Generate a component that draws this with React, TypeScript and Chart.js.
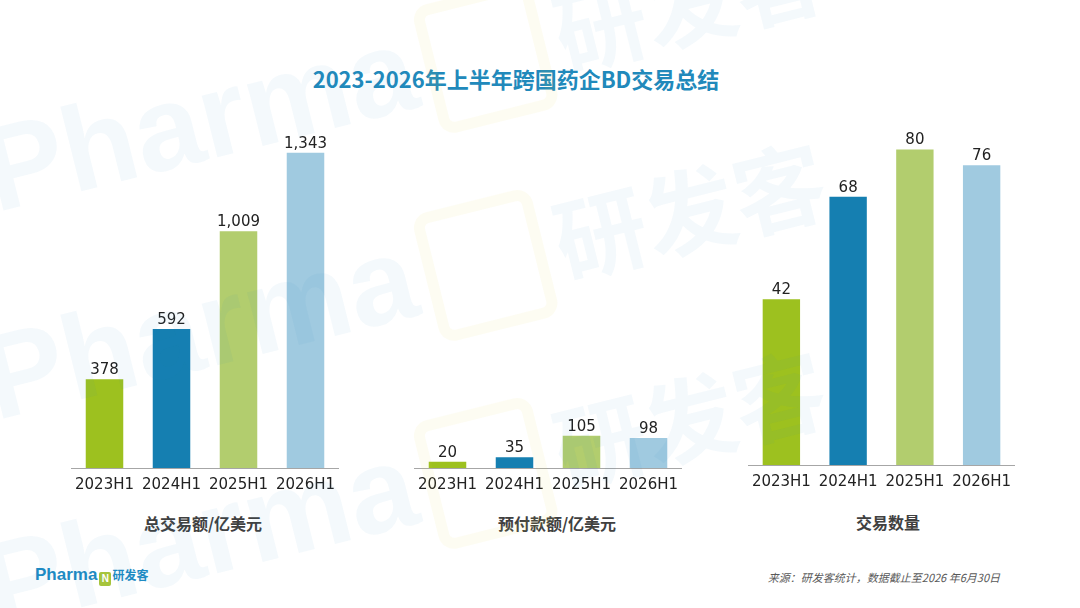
import React, { useEffect, useRef } from "react";
import { Chart, registerables } from "chart.js";

Chart.register(...registerables);

const categories = ["2023H1", "2024H1", "2025H1", "2026H1"];
const totalDealValue = [378, 592, 1009, 1343];
const upfrontValue = [20, 35, 105, 98];
const dealCount = [42, 68, 80, 76];
const barColors = ["#9DC11F", "#157FB1", "#B2CD6E", "#A0CAE0"];

const title = "2023-2026年上半年跨国药企BD交易总结";
const source = "来源：研发客统计，数据截止至2026 年6月30日";

const PAD_TOP = 30;
const AXIS_H = 40;

// draws the number above each bar
const valueLabels = {
  id: "valueLabels",
  afterDatasetsDraw(chart: Chart) {
    const { ctx } = chart;
    const meta = chart.getDatasetMeta(0);
    const data = chart.data.datasets[0].data as number[];
    ctx.save();
    ctx.font = "15px 'DejaVu Sans'";
    ctx.fillStyle = "#222222";
    ctx.textAlign = "center";
    ctx.textBaseline = "alphabetic";
    meta.data.forEach((bar: any, i: number) => {
      ctx.fillText(data[i].toLocaleString("en-US"), bar.x, bar.y - 5);
    });
    ctx.restore();
  },
};

type PanelProps = {
  values: number[];
  yMax: number;
  left: number;
  width: number;
  axisY: number;
  areaHeight: number;
  subtitle: string;
  subtitleX: number;
  subtitleY: number;
};

const Panel = ({ values, yMax, left, width, axisY, areaHeight, subtitle, subtitleX, subtitleY }: PanelProps) => {
  const chartRef = useRef<HTMLCanvasElement | null>(null);
  const height = PAD_TOP + areaHeight + AXIS_H;
  const top = axisY - areaHeight - PAD_TOP;

  useEffect(() => {
    const ctx = chartRef.current?.getContext("2d");
    const chartInstance = new Chart(ctx!, {
      type: "bar",
      data: {
        labels: categories,
        datasets: [
          {
            data: values,
            backgroundColor: barColors,
            categoryPercentage: 1,
            barPercentage: 0.56,
          },
        ],
      },
      options: {
        responsive: false,
        animation: false,
        layout: { padding: { top: PAD_TOP, left: 0, right: 0, bottom: 0 } },
        plugins: { legend: { display: false }, tooltip: { enabled: false } },
        scales: {
          x: {
            grid: { display: false },
            border: { display: true, color: "#A6A6A6", width: 1 },
            ticks: {
              color: "#222222",
              font: { family: "'DejaVu Sans'", size: 15 },
              padding: 0,
              maxRotation: 0,
              autoSkip: false,
            },
            afterFit: (scale: any) => {
              scale.height = AXIS_H;
            },
          },
          y: { display: false, min: 0, max: yMax },
        },
      },
      plugins: [valueLabels],
    });
    return () => {
      chartInstance.destroy();
    };
  }, []);

  return (
    <>
      <canvas
        ref={chartRef}
        width={width}
        height={height}
        style={{ position: "absolute", left, top, width, height }}
      />
      <div
        style={{
          position: "absolute",
          left: subtitleX - 100,
          width: 200,
          top: subtitleY - 12,
          lineHeight: "24px",
          textAlign: "center",
          fontFamily: "'Noto Sans CJK SC'",
          fontWeight: 700,
          fontSize: 16,
          color: "#404040",
        }}
      >
        {subtitle}
      </div>
    </>
  );
};

const Watermark = ({ top }: { top: number }) => (
  <div
    style={{
      position: "absolute",
      left: 0,
      top,
      height: 120,
      lineHeight: "120px",
      whiteSpace: "nowrap",
      transform: "rotate(-14deg)",
      transformOrigin: "0 100%",
      fontFamily: "'Liberation Sans'",
      fontWeight: 700,
      fontSize: 120,
      color: "rgba(30,140,200,0.05)",
      pointerEvents: "none",
    }}
  >
    Pharma
    <span
      style={{
        display: "inline-block",
        width: 100,
        height: 110,
        marginLeft: 12,
        marginRight: 12,
        verticalAlign: "middle",
        border: "11px solid rgba(225,215,70,0.07)",
        borderRadius: 16,
      }}
    />
    <span style={{ fontFamily: "'Noto Sans CJK SC'", fontSize: 92 }}>研发客</span>
  </div>
);

const App = () => {
  return (
    <div
      style={{
        position: "absolute",
        left: 0,
        top: 0,
        width: 1080,
        height: 608,
        overflow: "hidden",
        background: "#FFFFFF",
      }}
    >
      <div
        style={{
          position: "absolute",
          left: 0,
          width: 1032,
          top: 65,
          lineHeight: "26px",
          textAlign: "center",
          fontFamily: "'Noto Sans CJK SC'",
          fontWeight: 700,
          fontSize: 22,
          color: "#2189BB",
        }}
      >
        {title}
      </div>

      <Panel values={totalDealValue} yMax={1500} left={71} width={268} axisY={468} areaHeight={352}
        subtitle="总交易额/亿美元" subtitleX={203} subtitleY={523} />
      <Panel values={upfrontValue} yMax={150} left={414} width={268} axisY={468} areaHeight={46}
        subtitle="预付款额/亿美元" subtitleX={557} subtitleY={523} />
      <Panel values={dealCount} yMax={90} left={748} width={267} axisY={465} areaHeight={355}
        subtitle="交易数量" subtitleX={888} subtitleY={522} />

      <div
        style={{
          position: "absolute",
          left: 35,
          top: 565,
          lineHeight: "20px",
          whiteSpace: "nowrap",
          color: "#1E8BC3",
          fontWeight: 700,
        }}
      >
        <span style={{ fontFamily: "'Liberation Sans'", fontSize: 17 }}>Pharma</span>
        <span
          style={{
            display: "inline-block",
            width: 12,
            height: 14,
            marginLeft: 2,
            marginRight: 1,
            verticalAlign: "-2px",
            background: "#A6C43C",
            borderRadius: 2,
            color: "#FFFFFF",
            fontFamily: "'Liberation Sans'",
            fontSize: 10,
            lineHeight: "14px",
            textAlign: "center",
          }}
        >
          N
        </span>
        <span style={{ fontFamily: "'Noto Sans CJK SC'", fontSize: 12 }}>研发客</span>
      </div>

      <div
        style={{
          position: "absolute",
          right: 80,
          top: 568,
          lineHeight: "18px",
          whiteSpace: "nowrap",
          fontFamily: "'Noto Sans CJK SC'",
          fontStyle: "italic",
          fontSize: 11,
          color: "#595959",
        }}
      >
        {source}
      </div>

      <Watermark top={110} />
      <Watermark top={318} />
      <Watermark top={526} />
    </div>
  );
};

export default App;
